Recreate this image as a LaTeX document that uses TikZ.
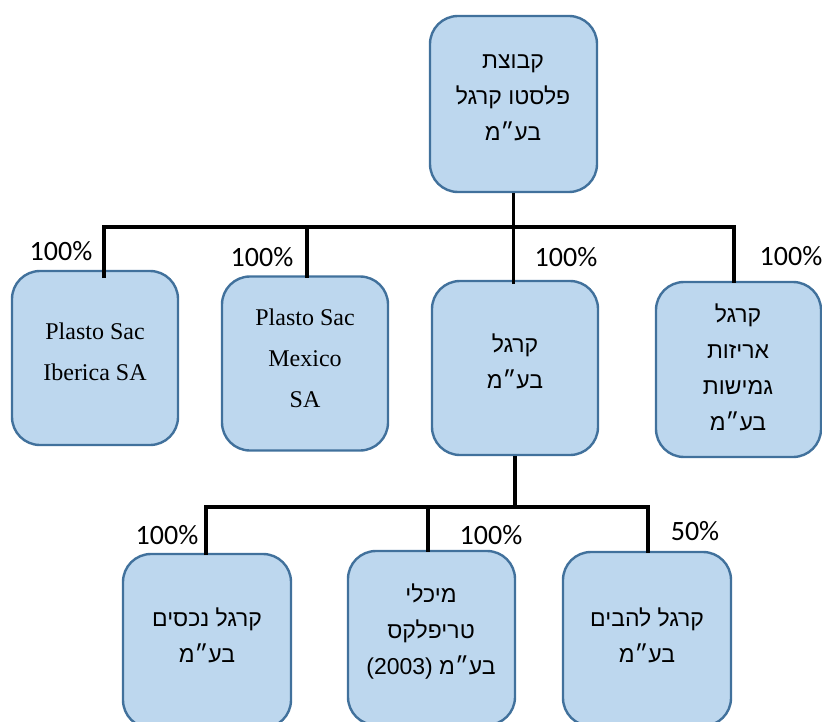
\documentclass[tikz,border=0pt]{standalone}
\usepackage{fontspec}
\setmainfont{Liberation Serif}
\newfontfamily\hebfont[Script=Hebrew]{Liberation Sans}
\newfontfamily\latfont{Liberation Sans}
\newfontfamily\pctfont{Carlito}
\TeXXeTstate=1
\definecolor{boxfill}{HTML}{BDD7EE}
\definecolor{boxedge}{HTML}{41719C}
\tikzset{
  box/.style={draw=boxedge, fill=boxfill, line width=2.4pt, rounded corners=28pt,
    minimum width=166pt, minimum height=174pt, inner sep=0pt},
  heb/.style={font=\hebfont\fontsize{23}{36}\selectfont, align=center, inner sep=0pt},
  lat/.style={font=\fontsize{24}{41}\selectfont, align=center, inner sep=0pt},
  pct/.style={font=\pctfont\fontsize{28}{30}\selectfont, inner sep=0pt},
  link/.style={line width=3.3pt, black, line join=miter}
}
\begin{document}
\begin{tikzpicture}[x=1pt,y=-1pt]
\useasboundingbox (0,0) rectangle (822,722);
\clip (0,0) rectangle (822,722);
% boxes
\node[box, minimum width=167pt, minimum height=176pt] (top) at (513.5,104) {};
\node[box] (b1) at (95,358) {};
\node[box] (b2) at (305,363.5) {};
\node[box] (b3) at (515,368) {};
\node[box, minimum width=165pt, minimum height=175pt] (b4) at (738.5,369.5) {};
\node[box, minimum width=168pt] (b5) at (207,641) {};
\node[box, minimum width=167pt] (b6) at (431.5,638) {};
\node[box, minimum width=168pt] (b7) at (647,639) {};
% texts
\node[heb] (t0) at (513,98) {\beginR קבוצת\endR\\\beginR פלסטו קרגל\endR\\\beginR בע״מ\endR};
\node[lat] (t1) at (95,352) {Plasto Sac\\Iberica SA};
\node[lat] (t2) at (305,358) {Plasto Sac\\Mexico\\SA};
\node[heb] (t3) at (515,361) {\beginR קרגל\endR\\\beginR בע״מ\endR};
\node[heb] (t4) at (738,367) {\beginR קרגל\endR\\\beginR אריזות\endR\\\beginR גמישות\endR\\\beginR בע״מ\endR};
\node[heb] (t5) at (207,635) {\beginR קרגל נכסים\endR\\\beginR בע״מ\endR};
\node[heb] (t6) at (431,632) {\beginR מיכלי\endR\\\beginR טריפלקס\endR\\\beginR בע״מ \beginL{\latfont(2003)}\endL\endR};
\node[heb] (t7) at (647,635) {\beginR קרגל להבים\endR\\\beginR בע״מ\endR};
% connector junctions
\coordinate (hub) at (513.5,227);
\coordinate (j1) at (104,227);
\coordinate (j2) at (307,227);
\coordinate (j3) at (513.5,227);
\coordinate (j4) at (734,227);
\coordinate (e1) at (104,278);
\coordinate (e2) at (307,278);
\coordinate (e3) at (513.5,284);
\coordinate (e4) at (734,283);
\coordinate (hub2) at (515,507);
\coordinate (k5) at (206,507);
\coordinate (k6) at (428,507);
\coordinate (k7) at (648,507);
\coordinate (f5) at (206,555);
\coordinate (f6) at (428,552);
\coordinate (f7) at (648,553);
\draw[link] (top.south) -- (hub);
\draw[link] (e1) -- (j1) -- (j4) -- (e4);
\draw[link] (j2) -- (e2);
\draw[link] (j3) -- (e3);
\draw[link] (b3.south) -- (hub2);
\draw[link] (f5) -- (k5) -- (k7) -- (f7);
\draw[link] (k6) -- (f6);
% percentages
\node[pct] (p1) at (61,251) {100\%};
\node[pct] (p2) at (262,257) {100\%};
\node[pct] (p3) at (566,257) {100\%};
\node[pct] (p4) at (791,256) {100\%};
\node[pct] (p5) at (167,535) {100\%};
\node[pct] (p6) at (491,535) {100\%};
\node[pct] (p7) at (695,531) {50\%};
\end{tikzpicture}
\end{document}
